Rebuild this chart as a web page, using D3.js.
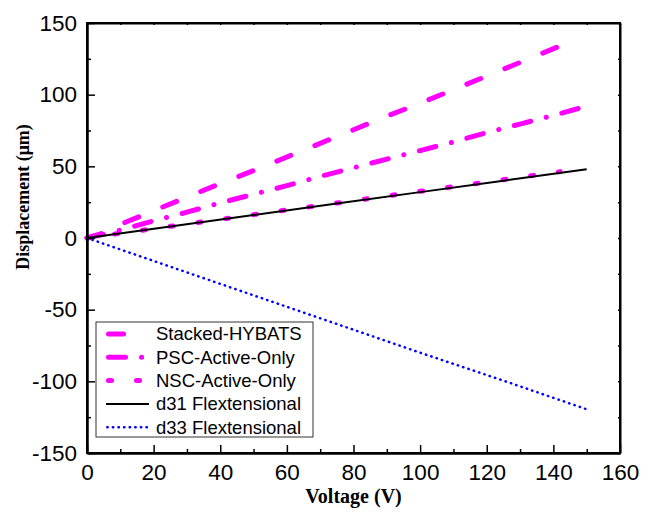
<!DOCTYPE html>
<html>
<head>
<meta charset="utf-8">
<script src="https://cdn.jsdelivr.net/npm/d3@7"></script>
<style>
body{margin:0;background:#fff;}
svg{display:block;}
</style>
</head>
<body>
<svg width="654" height="515"></svg>
<script>
// data
const stackedV = [0, 5, 10, 20, 30, 40, 50, 60, 70, 80, 90, 100, 110, 120, 130, 142];
const stackedD = [0, 3.5, 9.5, 19, 28.5, 38, 47, 56.5, 66, 75.5, 85, 94, 103.5, 113, 122.5, 134];
const pscV = [0, 5, 10, 20, 30, 40, 50, 60, 70, 80, 90, 100, 110, 120, 130, 140, 150];
const pscD = [0, 2.5, 5.5, 12, 18, 24.5, 30.5, 36.5, 43, 49, 55, 61, 67, 73.5, 79.5, 85.5, 92];
const nscV = [0, 10, 20, 30, 40, 50, 60, 70, 80, 90, 100, 110, 120, 130, 140, 142];
const nscD = [0, 3.3, 6.5, 9.8, 13, 16.3, 19.6, 22.8, 26, 29.3, 32.6, 35.8, 39, 42.4, 45.6, 46.3];
const d31V = [0, 25, 50, 75, 100, 125, 150];
const d31D = [0, 8, 16, 24, 32, 40, 48];
const d33V = [0, 25, 50, 75, 100, 125, 150];
const d33D = [0, -20, -40, -60, -80, -99.5, -119.5];
const legendNames = ["Stacked-HYBATS", "PSC-Active-Only", "NSC-Active-Only", "d31 Flextensional", "d33 Flextensional"];
const xTicks = [0, 20, 40, 60, 80, 100, 120, 140, 160];
const yTicks = [-150, -100, -50, 0, 50, 100, 150];

const svg = d3.select("svg");
const pLeft = 87, pRight = 620, pTop = 23, pBottom = 453;

const x = d3.scaleLinear().domain([0, 160]).range([pLeft, pRight]);
const y = d3.scaleLinear().domain([-150, 150]).range([pBottom, pTop]);

const series = [
  {name: legendNames[0], v: stackedV, d: stackedD, color: "#ff00ff", w: 5, dash: "15,26", cap: "round"},
  {name: legendNames[1], v: pscV, d: pscD, color: "#ff00ff", w: 5, dash: "17,16,0.1,16", cap: "round"},
  {name: legendNames[2], v: nscV, d: nscD, color: "#ff00ff", w: 5, dash: "3,25", cap: "round"},
  {name: legendNames[3], v: d31V, d: d31D, color: "#000000", w: 2, dash: null, cap: "butt"},
  {name: legendNames[4], v: d33V, d: d33D, color: "#0000ff", w: 2.5, dash: "0.4,5.2", cap: "round"}
];

const line = d3.line().x(p => x(p[0])).y(p => y(p[1]));

// lines
series.forEach(s => {
  svg.append("path")
     .datum(s.v.map((v, i) => [v, s.d[i]]))
     .attr("d", line)
     .attr("fill", "none")
     .attr("stroke", s.color)
     .attr("stroke-width", s.w)
     .attr("stroke-dasharray", s.dash)
     .attr("stroke-linecap", s.cap);
});

// AXES
const tickFont = "'Liberation Sans', Arial, sans-serif";
const plain = d => String(d);   // plain hyphen for negatives

svg.append("g").attr("transform", "translate(0," + pBottom + ")")
   .call(d3.axisBottom(x).tickValues(xTicks).tickFormat(plain).tickSizeInner(-8).tickSizeOuter(0).tickPadding(11));
svg.append("g").attr("transform", "translate(0," + pBottom + ")")
   .call(d3.axisBottom(x).tickValues([10, 30, 50, 70, 90, 110, 130, 150]).tickSizeInner(-4).tickSizeOuter(0).tickFormat(""));

svg.append("g").attr("transform", "translate(" + pLeft + ",0)")
   .call(d3.axisLeft(y).tickValues(yTicks).tickFormat(plain).tickSizeInner(-8).tickSizeOuter(0).tickPadding(10));
svg.append("g").attr("transform", "translate(" + pLeft + ",0)")
   .call(d3.axisLeft(y).tickValues([-125, -75, -25, 25, 75, 125]).tickSizeInner(-4).tickSizeOuter(0).tickFormat(""));

// top and right with small ticks
svg.append("g").attr("transform", "translate(0," + pTop + ")")
   .call(d3.axisTop(x).tickValues(d3.range(0, 161, 10)).tickSizeInner(-2).tickSizeOuter(0).tickFormat(""));
svg.append("g").attr("transform", "translate(" + pRight + ",0)")
   .call(d3.axisRight(y).tickValues(d3.range(-150, 151, 25)).tickSizeInner(-2).tickSizeOuter(0).tickFormat(""));

svg.selectAll(".domain").attr("stroke", "#000").attr("stroke-width", 2);
svg.selectAll(".tick line").attr("stroke", "#000").attr("stroke-width", 1.5);
svg.selectAll(".tick text")
   .attr("font-family", tickFont)
   .attr("font-size", "22.5px")
   .attr("fill", "#000");

// frame
svg.append("rect")
   .attr("x", pLeft).attr("y", pTop)
   .attr("width", pRight - pLeft).attr("height", pBottom - pTop)
   .attr("fill", "none").attr("stroke", "#000").attr("stroke-width", 2);

// TITLES
svg.append("text")
   .attr("x", (pLeft + pRight) / 2)
   .attr("y", 503)
   .attr("text-anchor", "middle")
   .attr("font-family", "'Liberation Serif', 'Times New Roman', serif")
   .attr("font-weight", "bold")
   .attr("font-size", "20px")
   .text("Voltage (V)");

svg.append("text")
   .attr("transform", "translate(29,197) rotate(-90)")
   .attr("text-anchor", "middle")
   .attr("font-family", "'Liberation Serif', 'Times New Roman', serif")
   .attr("font-weight", "bold")
   .attr("font-size", "18px")
   .text("Displacement (\u03bcm)");

// LEGEND
const legend = svg.append("g");
legend.append("rect")
   .attr("x", 96).attr("y", 322)
   .attr("width", 217).attr("height", 115)
   .attr("fill", "#fff").attr("stroke", "#333").attr("stroke-width", 1);

series.forEach((s, i) => {
  const cy = 334 + i * 23.3;
  const r = s.cap === "round" ? s.w / 2 : 0;
  legend.append("line")
     .attr("x1", 106 + r).attr("x2", 149 - r)
     .attr("y1", cy).attr("y2", cy)
     .attr("stroke", s.color)
     .attr("stroke-width", s.w)
     .attr("stroke-dasharray", s.dash)
     .attr("stroke-linecap", s.cap);
  legend.append("text")
     .attr("x", 156).attr("y", cy)
     .attr("dy", "0.35em")
     .attr("font-family", tickFont)
     .attr("font-size", "18.5px")
     .text(s.name);
});
</script>
</body>
</html>
